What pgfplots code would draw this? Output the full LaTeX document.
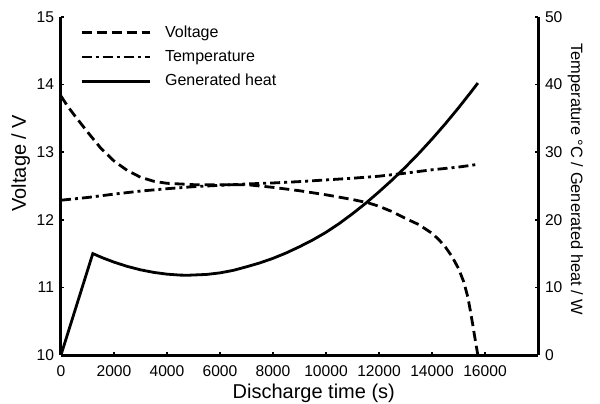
\documentclass[border=0pt]{standalone}
\usepackage{fontspec}
\setmainfont{Liberation Sans}
\usepackage{pgfplots}
\pgfplotsset{compat=1.18}

% voltage (left axis), temperature and heat (right axis)
\pgfplotstableread{
t V
0 13.83
250 13.68
500 13.55
1000 13.30
1500 13.06
2000 12.87
2500 12.73
3000 12.63
3500 12.57
4000 12.54
5000 12.52
6000 12.52
7000 12.52
8000 12.48
9000 12.43
10000 12.37
11000 12.30
11600 12.25
12000 12.20
12500 12.12
13000 12.02
13500 11.93
14000 11.80
14250 11.71
14500 11.60
14750 11.46
15000 11.28
15200 11.08
15350 10.86
15450 10.65
15550 10.42
15650 10.18
15730 10.00
}\voltage

\pgfplotstableread{
t T
0 22.9
1000 23.3
2000 23.8
3000 24.25
4000 24.6
5000 24.9
6000 25.1
7000 25.3
8000 25.45
9000 25.65
10000 25.9
11000 26.15
12000 26.45
13000 26.9
14000 27.4
15000 27.8
15730 28.2
}\temperature

\pgfplotstableread{
t Q
0 0
1200 15.0
1600 14.33
2000 13.74
2500 13.11
3000 12.60
3500 12.22
4000 11.96
4500 11.82
4800 11.80
5500 11.92
6000 12.15
6500 12.52
7000 13.05
7500 13.62
8000 14.30
8500 15.10
9000 16.02
9500 17.02
10000 18.15
10500 19.45
11000 20.90
11500 22.45
12000 24.14
12500 25.91
13000 27.80
13500 29.81
14000 31.94
14500 34.19
15000 36.56
15500 39.05
15730 40.23
}\heat

\tikzset{
  vline/.style={black, line width=1.4pt, dash pattern=on 5pt off 2.5pt},
  tline/.style={black, line width=1.4pt, dash pattern=on 5pt off 2pt on 1.5pt off 2pt},
  qline/.style={black, line width=1.4pt},
}

\pgfplotsset{
  base/.style={
    scale only axis, width=238.5pt, height=169pt,
    xmin=0, xmax=18000,
    tick align=inside, major tick length=1.5pt,
    tick style={black, line width=0.8pt},
    axis line style={line width=1.5pt},
    ticklabel style={font=\fontsize{7.8}{9}\selectfont},
    /pgf/number format/assume math mode=true,
    /pgf/number format/1000 sep={},
    scaled x ticks=false,
    label style={font=\fontsize{9.2}{11}\selectfont, inner sep=0pt},
    legend image code/.code={\draw[##1] (0pt,0pt) -- (34pt,0pt);},
  }
}

\begin{document}
\begin{tikzpicture}
\begin{axis}[base,
    axis x line*=bottom, axis y line*=left,
    ymin=10, ymax=15, ytick={10,11,...,15},
    xtick={0,2000,...,16000},
    xticklabel style={yshift=-2pt},
    xlabel={Discharge time (s)},
    ylabel={Voltage / V},
    every axis x label/.style={at={(axis description cs:0.53,-0.066)}, anchor=north},
    every axis y label/.style={at={(axis description cs:-0.05,0.568)}, rotate=90, anchor=south},
]
\addplot[vline] table[x=t, y=V] {\voltage};
\end{axis}
\begin{axis}[base,
    axis x line=none, axis y line*=right,
    ymin=0, ymax=50, ytick={0,10,...,50},
    ylabel={Temperature °C / Generated heat / W},
    every axis y label/.style={at={(axis description cs:1.109,0.52)}, rotate=-90, anchor=north,
      font=\fontsize{8.2}{10}\selectfont},
    legend style={at={(axis description cs:0.027,1.0)}, anchor=north west,
      draw=none, fill=none, font=\fontsize{8}{10}\selectfont,
      row sep=1pt, column sep=5pt, cells={anchor=west}},
]
\addlegendimage{vline}
\addlegendentry{Voltage}
\addplot[tline] table[x=t, y=T] {\temperature};
\addlegendentry{Temperature}
\addplot[qline] table[x=t, y=Q] {\heat};
\addlegendentry{Generated heat}
\end{axis}
\pgfresetboundingbox
\path[use as bounding box] (-30.5pt,-24pt) rectangle (269.5pt,177.5pt);
\end{tikzpicture}
\end{document}
